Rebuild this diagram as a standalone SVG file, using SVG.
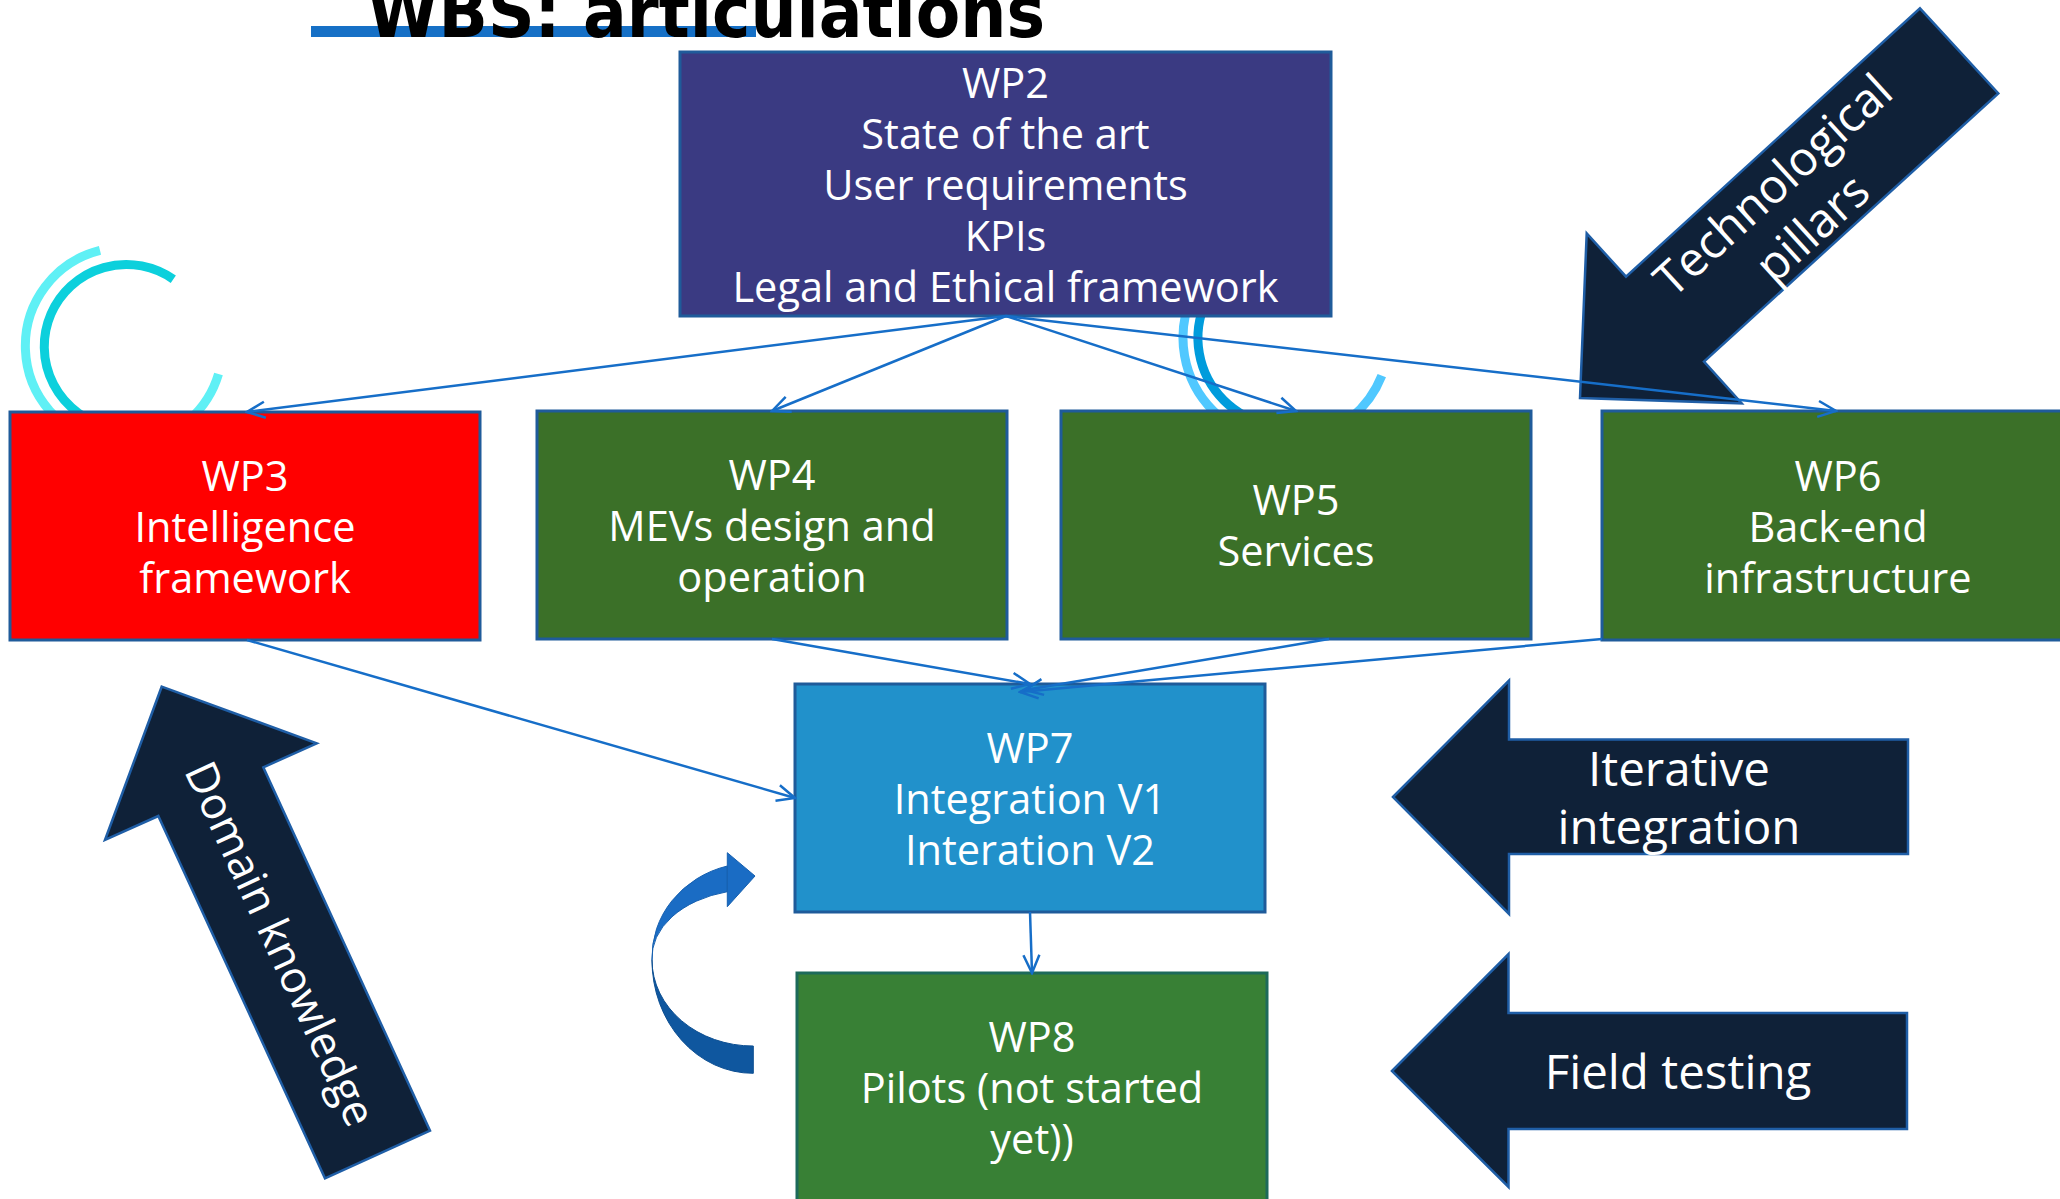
<svg xmlns="http://www.w3.org/2000/svg" width="2060" height="1199" viewBox="0 0 2060 1199">
<defs>
<style>
.box{stroke:#1f5b9a;stroke-width:3}
.lbl{font-family:"Open Sans","DejaVu Sans",sans-serif;font-size:41.5px;fill:#ffffff;text-anchor:middle}
.big{font-family:"Open Sans","DejaVu Sans",sans-serif;font-size:47.5px;fill:#ffffff;text-anchor:middle}
.dark{fill:#0f2138;stroke:#1f5ea6;stroke-width:2.5}
.conn{stroke:#166ec8;stroke-width:2.5;fill:none;marker-end:url(#arr)}
.arc{fill:none;stroke-width:9}
</style>
<marker id="arr" viewBox="0 0 22 20" refX="20" refY="10" markerWidth="22" markerHeight="20" markerUnits="userSpaceOnUse" orient="auto">
<path d="M2,2 L20,10 L2,18" fill="none" stroke="#166ec8" stroke-width="2.5"/>
</marker>
</defs>
<rect width="2060" height="1199" fill="#ffffff"/>

<g id="title">
<rect x="311" y="26" width="445" height="11" fill="#1670c6"/>
<text x="367" y="37" font-family="DejaVu Sans, sans-serif" font-weight="bold" font-size="72" textLength="678" lengthAdjust="spacingAndGlyphs" fill="#000000">WBS: articulations</text>
</g>

<g id="cycle-arcs">
<path class="arc" stroke="#5ff0f5" d="M100,250.4 A98.5 98.5 0 0 0 106.9,443"/>
<path class="arc" stroke="#5ff0f5" d="M218.5,374 A98.5 98.5 0 0 1 141.1,443"/>
<path class="arc" stroke="#0cd0dc" d="M173.3,279.3 A82 82 0 1 0 109.8,426.8"/>
<path class="arc" stroke="#50c8ff" d="M1234.5,248.8 A103 103 0 0 0 1268,439.4"/>
<path class="arc" stroke="#50c8ff" d="M1381.8,375.7 A103 103 0 0 1 1303.9,439.4"/>
<path class="arc" stroke="#009cdc" d="M1242,261.8 A88 88 0 0 0 1270.7,424.7"/>
</g>

<g id="tech-pillars">
<polygon class="dark" points="1920,8.3 1998.3,93.3 1704,361.7 1741.7,403.3 1580,398 1586.7,233.3 1626,276.7"/>
<g transform="translate(1793,207) rotate(-42.4)">
<text class="big" x="0" y="-13">Technological</text>
<text class="big" x="0" y="45">pillars</text>
</g>
</g>

<g id="domain-knowledge">
<polygon class="dark" points="161.7,686.7 316.7,743.3 263.3,767.3 430,1130.7 325,1178.3 158.3,816 105,840"/>
<text class="big" style="font-size:44px" transform="translate(280,944) rotate(65.3)" x="0" y="15">Domain knowledge</text>
</g>

<g id="iterative-integration">
<polygon class="dark" points="1393,797 1509,680.5 1509,739.5 1908,739.5 1908,854 1509,854 1509,914"/>
<text class="big" x="1679" y="786">Iterative</text>
<text class="big" x="1679" y="844">integration</text>
</g>

<g id="field-testing">
<polygon class="dark" points="1392,1071 1508.5,954 1508.5,1013 1907,1013 1907,1129 1508.5,1129 1508.5,1187"/>
<text class="big" x="1678" y="1089">Field testing</text>
</g>

<g id="loop-arrow">
<path d="M727.3,866 A101 94 0 0 0 652,960 A101 68 0 0 1 727.3,891.7 Z" fill="#1a6cc4" stroke="#1660b0" stroke-width="1"/>
<polygon points="727.3,852.7 755,876 727.3,906.7" fill="#1a6cc4" stroke="#1660b0" stroke-width="1"/>
<path d="M652,960 A101 113 0 0 0 753.3,1073.3 L753.3,1046 A101 86 0 0 1 652,960 Z" fill="#0f579f" stroke="#0d4f92" stroke-width="1"/>
</g>

<g id="wp2">
<rect class="box" x="680" y="52" width="651" height="264" fill="#3a3a82"/>
<text class="lbl" x="1005.5" y="97.5">WP2</text>
<text class="lbl" x="1005.5" y="148.5">State of the art</text>
<text class="lbl" x="1005.5" y="199.5">User requirements</text>
<text class="lbl" x="1005.5" y="250.5">KPIs</text>
<text class="lbl" x="1005.5" y="301.5">Legal and Ethical framework</text>
</g>

<g id="wp3">
<rect class="box" x="10" y="412" width="470" height="228" fill="#ff0000"/>
<text class="lbl" x="245" y="490.5">WP3</text>
<text class="lbl" x="245" y="541.5">Intelligence</text>
<text class="lbl" x="245" y="592.5">framework</text>
</g>

<g id="wp4">
<rect class="box" x="537" y="411" width="470" height="228" fill="#3b7028"/>
<text class="lbl" x="772" y="489.5">WP4</text>
<text class="lbl" x="772" y="540.5">MEVs design and</text>
<text class="lbl" x="772" y="591.5">operation</text>
</g>

<g id="wp5">
<rect class="box" x="1061" y="411" width="470" height="228" fill="#3b7028"/>
<text class="lbl" x="1296" y="515">WP5</text>
<text class="lbl" x="1296" y="566">Services</text>
</g>

<g id="wp6">
<rect class="box" x="1602" y="411" width="470" height="229" fill="#3b7028"/>
<text class="lbl" x="1838" y="491">WP6</text>
<text class="lbl" x="1838" y="542">Back-end</text>
<text class="lbl" x="1838" y="593">infrastructure</text>
</g>

<g id="wp7">
<rect class="box" x="795" y="684" width="470" height="228" fill="#2191cb"/>
<text class="lbl" x="1030" y="763">WP7</text>
<text class="lbl" x="1030" y="814">Integration V1</text>
<text class="lbl" x="1030" y="865">Interation V2</text>
</g>

<g id="wp8">
<rect class="box" x="797" y="973" width="470" height="229" fill="#388035" style="stroke:#1d6a5a"/>
<text class="lbl" x="1032" y="1052">WP8</text>
<text class="lbl" x="1032" y="1103">Pilots (not started</text>
<text class="lbl" x="1032" y="1154">yet))</text>
</g>

<g id="connectors">
<line class="conn" x1="1006" y1="316" x2="247" y2="412"/>
<line class="conn" x1="1006" y1="316" x2="772" y2="411"/>
<line class="conn" x1="1006" y1="316" x2="1296" y2="411"/>
<line class="conn" x1="1006" y1="316" x2="1836" y2="411"/>
<line class="conn" x1="247" y1="640" x2="795" y2="798"/>
<line class="conn" x1="772" y1="639" x2="1030" y2="684"/>
<line class="conn" x1="1329" y1="639" x2="1025" y2="690"/>
<line class="conn" x1="1602" y1="639" x2="1020" y2="692"/>
<line class="conn" x1="1030" y1="912" x2="1032" y2="973"/>
</g>
</svg>
